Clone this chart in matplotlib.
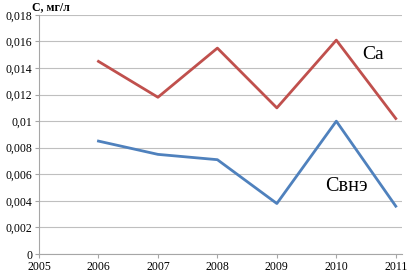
import matplotlib
matplotlib.use("Agg")
import matplotlib.pyplot as plt

years = [2006, 2007, 2008, 2009, 2010, 2011]
ca = [0.0145, 0.0118, 0.0155, 0.0110, 0.0161, 0.0102]
cvne = [0.0085, 0.0075, 0.0071, 0.0038, 0.0100, 0.0036]

x_ticks = [2005, 2006, 2007, 2008, 2009, 2010, 2011]
y_ticks = [0, 0.002, 0.004, 0.006, 0.008, 0.010, 0.012, 0.014, 0.016, 0.018]
y_labels = ["0", "0,002", "0,004", "0,006", "0,008", "0,01", "0,012", "0,014", "0,016", "0,018"]

plt.rcParams['font.family'] = ['Liberation Serif', 'DejaVu Serif']

fig = plt.figure(figsize=(4.08, 2.79), dpi=100)
ax = fig.add_axes([0.0956, 0.0896, 0.889, 0.857])

ax.plot(years, ca, color="#C0504D", lw=2)
ax.plot(years, cvne, color="#4F81BD", lw=2)

ax.set_xlim(2005, 2011.1)
ax.set_ylim(0, 0.018)
ax.set_xticks(x_ticks)
ax.set_xticklabels([str(y) for y in x_ticks], fontsize=8.5)
ax.set_yticks(y_ticks)
ax.set_yticklabels(y_labels, fontsize=8.5)

ax.grid(axis="y", color="#BFBFBF", lw=0.8)
ax.set_axisbelow(True)
for s in ["top", "right"]:
    ax.spines[s].set_visible(False)
for s in ["left", "bottom"]:
    ax.spines[s].set_color("#A6A6A6")
ax.tick_params(axis="both", color="#A6A6A6", length=3, pad=2)

ax.text(2010.43, 0.01466, "Ca", fontsize=14)
ax.text(2009.82, 0.00474, "Свнэ", fontsize=14.5)
fig.text(0.078, 0.975, "C, мг/л", fontsize=8.5, fontweight="bold", va="center")

fig.savefig("out.png", dpi=100)
